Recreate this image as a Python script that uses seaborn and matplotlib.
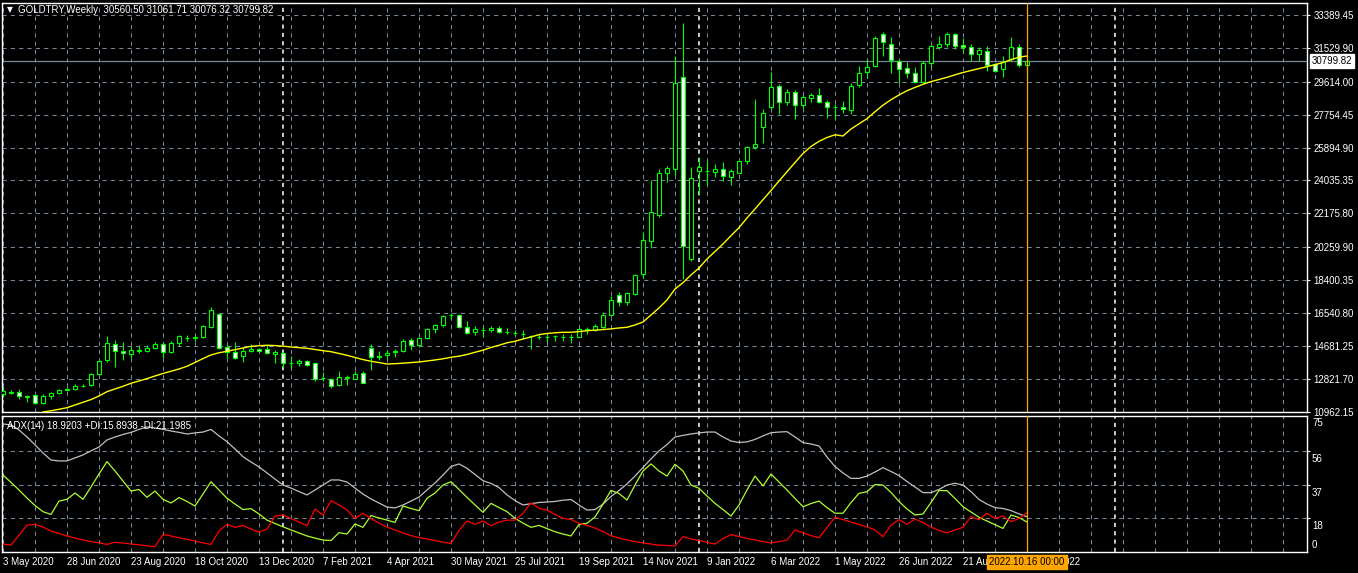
import numpy as np
import pandas as pd
import matplotlib
matplotlib.use('Agg')
import matplotlib.pyplot as plt
import matplotlib.transforms as mtransforms
import seaborn as sns

symbol = 'GOLDTRY,Weekly'

# weekly OHLC, 3 May 2020 .. 16 Oct 2022
opens = [11925, 12030, 12049, 11810, 11880, 11427, 11823, 11993, 12200, 12219,
         12400, 12445, 13068, 13860, 14764, 14385, 14199, 14410, 14385, 14538,
         14764, 14312, 14821, 15120, 15130, 15160, 15726, 16461, 14595, 14312,
         14086, 14368, 14481, 14481, 14216, 14255, 13680, 13690, 13803, 13690,
         12830, 12819, 12479, 12880, 12819, 13124, 14538, 14070, 14142, 14350,
         14368, 14991, 14707, 15104, 15613, 15873, 16420, 16405, 15760, 15477,
         15590, 15556, 15669, 15480, 15410, 15330, 15260, 15200, 15190, 15210,
         15200, 15190, 15194, 15600, 15556, 15760, 16405, 17536, 17140, 17626,
         18724, 20590, 22095, 24436, 24662, 29866, 19606, 24549, 24560, 24527,
         24662, 24210, 24470, 25150, 25924, 27027, 28167, 29356, 28484, 29016,
         28281, 28678, 28847, 28450, 28160, 28167, 27999, 29413, 30148, 30488,
         32298, 31732, 30770, 30375, 30092, 29583, 30658, 31562, 31732, 32298,
         31676, 31562, 31166, 31336, 30601, 30318, 30884, 31562, 30560.50]
highs = [12349, 12163, 12219, 11880, 11936, 11936, 12049, 12219, 12332, 12502,
         12502, 13124, 13860, 15234, 14991, 14895, 14651, 14707, 14707, 14912,
         14912, 14934, 15273, 15290, 15273, 15873, 16874, 16552, 14764, 14895,
         14595, 14764, 14572, 14707, 14425, 14312, 14086, 13933, 13860, 13746,
         13198, 12876, 13271, 13045, 13271, 13271, 14764, 14385, 14425, 14481,
         15047, 15138, 15160, 15669, 15930, 16405, 16535, 16461, 16065, 15782,
         15743, 15816, 15782, 15669, 15573, 15556, 15290, 15330, 15364, 15290,
         15330, 15330, 15703, 15760, 15930, 16591, 17496, 17706, 17706, 18741,
         21133, 24057, 24662, 24866, 31053, 32953, 24793, 25358, 25132, 24962,
         25075, 24662, 25150, 25980, 28639, 28056, 30166, 29469, 29186, 29129,
         28847, 28960, 29243, 28564, 28356, 28508, 29526, 30488, 30884, 32184,
         32411, 32128, 30901, 30714, 30450, 30770, 31676, 32184, 32411, 32354,
         32071, 31732, 31562, 31619, 30658, 31053, 32128, 31732, 31061.71]
lows = [11784, 11936, 11688, 11484, 11388, 11370, 11688, 11970, 12163, 12163,
        12370, 12406, 13011, 13746, 13498, 13860, 13989, 14289, 14329, 14481,
        13972, 14255, 14651, 14934, 14934, 15104, 15703, 14498, 13972, 13916,
        13746, 14312, 14312, 14199, 13724, 13498, 13441, 13537, 13520, 12706,
        12671, 12310, 12423, 12479, 12785, 12558, 13328, 13860, 13950, 14029,
        14312, 14425, 14632, 15047, 15420, 15726, 16178, 15703, 15347, 15307,
        15194, 15477, 15386, 15330, 15290, 15047, 14498, 15047, 14895, 14968,
        14968, 14821, 15160, 15330, 15517, 15646, 16365, 16948, 16987, 17553,
        18498, 20228, 21982, 23961, 24357, 18441, 19493, 23192, 23791, 24247,
        24021, 23791, 24436, 24962, 25830, 26133, 28054, 27773, 28299, 27525,
        28054, 28484, 28394, 27565, 27489, 27830, 27773, 29300, 29900, 30431,
        31088, 30092, 29526, 29809, 29526, 29526, 30466, 31449, 31562, 31483,
        31279, 30770, 30806, 30205, 30148, 29866, 30770, 30466, 30076.32]
closes = [12123, 12060, 11857, 11830, 11427, 11823, 11993, 12163, 12219, 12389,
          12423, 13068, 13803, 14821, 14368, 14272, 14425, 14425, 14555, 14764,
          14312, 14821, 15217, 15138, 15150, 15782, 16687, 14538, 14312, 13972,
          14385, 14481, 14368, 14255, 14329, 13690, 13700, 13820, 13577, 12819,
          12850, 12423, 12898, 12898, 13085, 12592, 14029, 14086, 14272, 14368,
          14934, 14707, 15104, 15613, 15839, 16348, 16439, 15760, 15420, 15630,
          15600, 15669, 15443, 15477, 15420, 15340, 15251, 15194, 15200, 15217,
          15194, 15200, 15613, 15613, 15782, 16405, 17253, 17140, 17649, 18667,
          20664, 22247, 24436, 24719, 29526, 20341, 24153, 24793, 24580, 24680,
          24267, 24566, 25115, 25924, 26094, 27819, 29299, 28450, 29016, 28281,
          28734, 28847, 28450, 28167, 28167, 28056, 29356, 30092, 30431, 32071,
          31845, 30827, 30318, 30092, 29583, 30658, 31619, 31732, 32298, 31619,
          31562, 31166, 31393, 30544, 30205, 30714, 31562, 30544, 30799.82]

# yellow moving average, first visible at bar 5
ma_first_bar = 5
ma_values = [10935, 11003, 11088, 11178, 11331, 11484, 11637, 11840, 12084, 12236,
             12389, 12559, 12689, 12819, 12972, 13113, 13238, 13368, 13521, 13736,
             13956, 14160, 14284, 14369, 14460, 14555, 14646, 14685, 14708, 14691,
             14657, 14612, 14572, 14538, 14470, 14402, 14346, 14244, 14142, 14018,
             13899, 13802, 13729, 13650, 13667, 13695, 13729, 13763, 13820, 13876,
             13944, 14029, 14091, 14187, 14312, 14431, 14583, 14708, 14849, 14934,
             15064, 15177, 15313, 15375, 15415, 15443, 15443, 15483, 15534, 15562,
             15596, 15636, 15687, 15726, 15856, 16026, 16422, 16818, 17270, 17892,
             18249, 18684, 19080, 19589, 20013, 20437, 20907, 21359, 21908, 22417,
             22943, 23463, 24001, 24521, 25047, 25556, 25952, 26246, 26461, 26614,
             26546, 26942, 27236, 27524, 27920, 28288, 28599, 28865, 29108, 29295,
             29470, 29623, 29742, 29866, 30007, 30137, 30251, 30358, 30465, 30584,
             30697, 30867, 31003, 31071]

adx = [71.6, 71.0, 68.2, 64.2, 59.7, 55.1, 51.1, 50.6, 50.6, 52.3,
       54.0, 56.3, 58.5, 62.5, 64.2, 65.6, 66.8, 68.5, 69.9, 69.3,
       68.5, 67.6, 66.8, 65.9, 66.5, 67.0, 68.5, 64.8, 61.5, 57.4,
       53.0, 50.0, 47.2, 43.8, 40.3, 36.9, 35.2, 33.2, 31.3, 34.1,
       36.9, 39.8, 39.8, 38.6, 35.2, 31.8, 29.0, 26.7, 24.4, 23.9,
       25.6, 27.8, 30.1, 34.1, 38.1, 42.6, 47.4, 48.9, 46.4, 42.9,
       39.4, 37.8, 35.5, 31.3, 28.1, 25.6, 26.3, 27.0, 27.3, 27.6,
       28.3, 28.7, 25.6, 22.7, 23.0, 26.1, 30.4, 33.8, 37.5, 42.0,
       46.9, 51.7, 56.3, 59.9, 64.2, 65.1, 65.9, 66.5, 67.0, 67.0,
       64.2, 61.9, 61.1, 61.4, 62.8, 64.8, 66.6, 67.0, 67.2, 64.2,
       61.0, 60.2, 59.1, 52.8, 47.4, 43.8, 40.7, 40.7, 42.0, 44.3,
       46.8, 44.6, 42.3, 38.9, 35.8, 32.6, 32.6, 34.4, 36.9, 37.9,
       36.9, 33.2, 28.7, 26.1, 24.1, 23.6, 22.4, 20.5, 18.9203]
plus_di = [42.6, 38.4, 34.1, 29.5, 25.3, 21.8, 20.2, 27.8, 28.8, 32.4,
           28.8, 35.8, 43.2, 50.2, 44.9, 39.2, 33.5, 34.4, 29.9, 33.5,
           28.8, 26.7, 29.8, 27.6, 25.0, 31.8, 38.8, 34.1, 29.4, 26.1,
           23.0, 23.5, 20.5, 17.0, 15.1, 13.2, 11.4, 9.7, 8.0, 6.8,
           5.7, 5.4, 9.9, 9.1, 14.8, 12.9, 19.6, 18.2, 17.0, 15.7,
           25.0, 23.6, 22.4, 29.4, 32.4, 36.9, 38.8, 34.4, 29.9, 25.6,
           21.4, 26.5, 24.1, 21.8, 18.0, 15.3, 12.9, 14.0, 12.2, 10.4,
           9.1, 8.0, 14.5, 15.2, 18.8, 26.1, 33.9, 32.1, 28.4, 36.9,
           44.9, 48.9, 44.9, 42.0, 48.7, 44.9, 36.9, 35.1, 30.7, 26.5,
           23.0, 19.3, 25.6, 34.1, 42.0, 36.4, 43.2, 38.6, 34.1, 29.3,
           24.6, 26.4, 27.8, 24.1, 20.9, 20.9, 27.0, 32.2, 33.1, 37.2,
           36.9, 32.7, 27.6, 23.3, 19.9, 20.5, 27.0, 33.8, 33.7, 29.3,
           24.6, 21.6, 18.6, 16.5, 14.4, 12.3, 19.9, 18.5, 15.8938]
minus_di = [3.4, 2.8, 8.5, 14.2, 14.6, 13.1, 10.8, 9.4, 8.0, 6.8,
            5.7, 4.8, 4.1, 3.2, 4.4, 4.0, 3.4, 3.0, 2.4, 1.9,
            8.9, 8.0, 7.0, 6.1, 5.1, 4.1, 3.2, 10.8, 14.6, 12.9,
            14.0, 11.9, 10.2, 11.9, 19.3, 19.9, 17.9, 15.9, 13.8, 23.3,
            19.9, 28.0, 25.6, 22.7, 18.0, 20.9, 17.9, 15.3, 13.1, 11.4,
            9.7, 8.2, 7.1, 6.3, 5.4, 4.5, 3.7, 11.1, 16.5, 14.6,
            16.5, 13.8, 15.9, 17.0, 17.0, 20.9, 26.9, 23.7, 22.7, 20.2,
            18.0, 17.4, 15.2, 13.9, 12.5, 10.5, 8.1, 6.8, 5.7, 4.8,
            4.1, 3.4, 2.8, 2.6, 2.3, 7.6, 6.3, 5.5, 4.4, 3.4,
            6.5, 8.8, 7.7, 6.6, 5.7, 4.8, 4.1, 4.8, 5.7, 11.4,
            9.8, 8.2, 7.0, 12.8, 18.6, 17.3, 15.9, 14.5, 13.2, 11.4,
            7.6, 14.2, 17.3, 14.6, 17.6, 15.6, 13.1, 11.1, 9.8, 11.4,
            12.9, 19.0, 17.2, 20.9, 18.0, 19.3, 16.1, 18.0, 21.1985]

date_labels = ['3 May 2020', '28 Jun 2020', '23 Aug 2020', '18 Oct 2020', '13 Dec 2020',
               '7 Feb 2021', '4 Apr 2021', '30 May 2021', '25 Jul 2021', '19 Sep 2021',
               '14 Nov 2021', '9 Jan 2022', '6 Mar 2022', '1 May 2022', '26 Jun 2022',
               '21 Aug 2022', '16 Oct 2022']
price_levels = [33389.45, 31529.90, 29614.00, 27754.45, 25894.90, 24035.35, 22175.80,
                20259.90, 18400.35, 16540.80, 14681.25, 12821.70, 10962.15]
adx_levels = [75, 56, 37, 18, 0]
year_start_bars = [35, 87, 139]
cursor_bar = 128
cursor_label = '2022.10.16 00:00'

sns.set_style('dark', rc={'axes.facecolor': 'black', 'figure.facecolor': 'black'})
plt.rcParams['font.family'] = ['Liberation Sans', 'DejaVu Sans']
plt.rcParams['lines.scale_dashes'] = False

GREEN = '#00ff00'
GRID = '#778899'
ORANGE = '#ffa500'
DASH = (0, (3, 3))
W, H = 1358, 573

df = pd.DataFrame({'open': opens, 'high': highs, 'low': lows, 'close': closes})
df['bar'] = np.arange(len(df))
bull = df['close'] >= df['open']


def box(l, t, r, b):
    return [l / W, 1 - b / H, (r - l) / W, (b - t) / H]


fig = plt.figure(figsize=(W / 100, H / 100), dpi=100)
ax = fig.add_axes(box(2, 2.5, 1307, 411.5))
ax2 = fig.add_axes(box(2, 416, 1307, 552))

for a in (ax, ax2):
    a.set_facecolor('black')
    a.set_xlim(-0.125, 163)
    for s in a.spines.values():
        s.set_color('white')
        s.set_linewidth(1)
        s.set_visible(True)
    a.set_xticks(range(0, cursor_bar + 1, 8))
    a.set_xticks(range(0, 164, 4), minor=True)
    a.grid(True, which='both', axis='x', color=GRID, linestyle=DASH, linewidth=0.75)
    a.grid(True, which='major', axis='y', color=GRID, linestyle=DASH, linewidth=0.75)
    a.yaxis.tick_right()
    a.tick_params(axis='y', colors='white', labelsize=7, length=2.2, width=0.8, pad=2.5)
    for b in year_start_bars:
        a.axvline(b, color='white', linestyle=DASH, linewidth=1.1, zorder=1.5)
    a.axvline(cursor_bar, color=ORANGE, linewidth=0.9, zorder=6)
    a.set_xlabel('')
    a.set_ylabel('')

# ---- price panel
ax.set_ylim(10962.15, 34097)
ax.set_yticks(price_levels)
ax.set_yticklabels([f'{p:.2f}' for p in price_levels])
ax.tick_params(axis='x', which='both', length=0, labelbottom=False)

bid = closes[-1]
ax.axhline(bid, color=GRID, linewidth=0.9, zorder=1.2)

ax.vlines(df['bar'], df['low'], df['high'], color=GREEN, linewidth=0.8, zorder=2)
up = df[bull]
dn = df[~bull]
ax.bar(up['bar'], up['close'] - up['open'], bottom=up['open'], width=0.55,
       facecolor='black', edgecolor=GREEN, linewidth=0.8, zorder=3)
ax.bar(dn['bar'], dn['open'] - dn['close'], bottom=dn['close'], width=0.55,
       facecolor='white', edgecolor=GREEN, linewidth=0.8, zorder=3)

ma_bars = np.arange(ma_first_bar, ma_first_bar + len(ma_values))
sns.lineplot(x=ma_bars, y=ma_values, ax=ax, color='#ffff00', linewidth=1,
             sort=False, legend=False, zorder=4)
ax.set_ylim(10962.15, 34097)

trans = mtransforms.blended_transform_factory(ax.transAxes, ax.transData)
ax.text(1.0, bid, f'{bid:.2f}', transform=mtransforms.offset_copy(trans, fig, x=5, units='dots'),
        ha='left', va='center', fontsize=7, color='black', zorder=10, clip_on=False,
        bbox=dict(boxstyle='square,pad=0.18', facecolor='white', edgecolor='white'))

fig.text(7 / W, 1 - 10 / H, '\u25bc', fontsize=5.5, color='white', va='center',
         family=['DejaVu Sans'])
fig.text(18 / W, 1 - 10 / H,
         f'{symbol}  {opens[-1]:.2f} {highs[-1]:.2f} {lows[-1]:.2f} {closes[-1]:.2f}',
         fontsize=7, color='white', va='center')

# ---- ADX panel
ax2.set_ylim(-1.1, 76.1)
ax2.set_yticks([v for v in adx_levels if 0 < v < max(adx_levels)])
ax2.set_yticklabels([])
bars = np.arange(len(adx))
sns.lineplot(x=bars, y=adx, ax=ax2, color='#c0c0c0', linewidth=0.9, sort=False, legend=False, zorder=4)
sns.lineplot(x=bars, y=plus_di, ax=ax2, color='#adff2f', linewidth=0.9, sort=False, legend=False, zorder=4)
sns.lineplot(x=bars, y=minus_di, ax=ax2, color='#ff0000', linewidth=0.9, sort=False, legend=False, zorder=4)
ax2.set_ylim(-1.1, 76.1)
ax2.set_xlim(-0.125, 163)

ax2.set_xticklabels(date_labels)
ax2.tick_params(axis='x', which='major', colors='white', labelsize=7, length=2.2, width=0.8, pad=1.5)
ax2.tick_params(axis='x', which='minor', length=0)
for lbl in ax2.get_xticklabels():
    lbl.set_horizontalalignment('left')

ytr = mtransforms.blended_transform_factory(ax2.transAxes, ax2.transData)
for lv in adx_levels:
    if lv == max(adx_levels):
        t = mtransforms.offset_copy(ax2.transAxes, fig, x=5, y=-7, units='dots')
        ax2.text(1.0, 1.0, str(lv), transform=t, ha='left', va='center',
                 fontsize=7, color='white', clip_on=False)
    elif lv == 0:
        t = mtransforms.offset_copy(ax2.transAxes, fig, x=5, y=7, units='dots')
        ax2.text(1.0, 0.0, str(lv), transform=t, ha='left', va='center',
                 fontsize=7, color='white', clip_on=False)
    else:
        t = mtransforms.offset_copy(ytr, fig, x=5, y=-8, units='dots')
        ax2.text(1.0, lv, str(lv), transform=t, ha='left', va='center',
                 fontsize=7, color='white', clip_on=False)

fig.text(7 / W, 1 - 426 / H,
         f'ADX(14) {adx[-1]:.4f} +DI:{plus_di[-1]:.4f} -DI:{minus_di[-1]:.4f}',
         fontsize=7, color='white', va='center')

xtr = mtransforms.blended_transform_factory(ax2.transData, ax2.transAxes)
ax2.text(cursor_bar, -0.075, cursor_label, transform=xtr, ha='center', va='center',
         fontsize=7, color='black', zorder=10, clip_on=False,
         bbox=dict(boxstyle='square,pad=0.2', facecolor=ORANGE, edgecolor=ORANGE))

fig.savefig('out.png', dpi=100, facecolor='black')
